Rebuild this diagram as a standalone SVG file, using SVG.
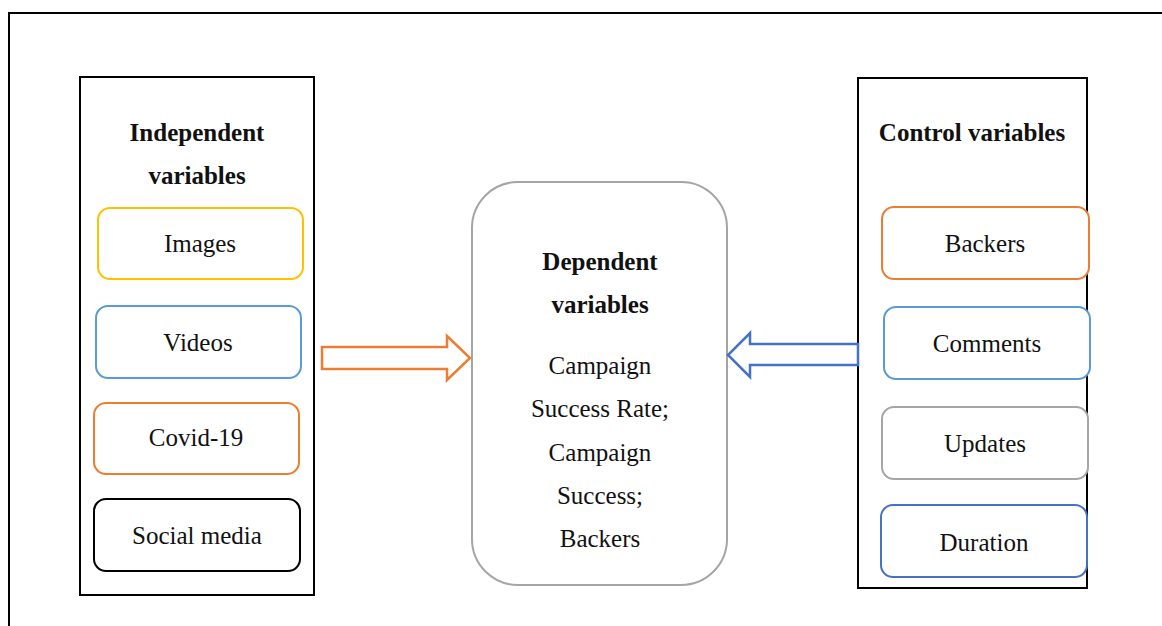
<svg xmlns="http://www.w3.org/2000/svg" width="1162" height="626" viewBox="0 0 1162 626">
<style>
text{font-family:"Liberation Serif","DejaVu Serif",serif;font-size:25px;fill:#111;text-anchor:middle}
.b{font-weight:bold}
.panel{fill:#fff;stroke:#000;stroke-width:2}
.item{fill:#fff;stroke-width:2}
</style>
<rect x="9" y="13" width="1200" height="700" fill="#fff" stroke="#000" stroke-width="2"/>
<g id="independent">
<rect class="panel" x="80" y="77" width="234" height="518"/>
<text class="b" x="197" y="141">Independent</text>
<text class="b" x="197" y="184">variables</text>
</g>
<g id="images"><rect class="item" x="98" y="208" width="205" height="71" rx="12" stroke="#FFC000"/><text x="200" y="252">Images</text></g>
<g id="videos"><rect class="item" x="96" y="306" width="205" height="72" rx="12" stroke="#5B9BD5"/><text x="198" y="351">Videos</text></g>
<g id="covid"><rect class="item" x="94" y="403" width="205" height="71" rx="12" stroke="#ED7D31"/><text x="196" y="446">Covid-19</text></g>
<g id="social"><rect class="item" x="94" y="499" width="206" height="72" rx="12" stroke="#000"/><text x="197" y="544">Social media</text></g>
<g id="dependent">
<rect x="472" y="182" width="255" height="403" rx="46" fill="#fff" stroke="#A5A5A5" stroke-width="2"/>
<text class="b" x="600" y="270">Dependent</text>
<text class="b" x="600" y="313">variables</text>
<text x="600" y="374">Campaign</text>
<text x="600" y="417">Success Rate;</text>
<text x="600" y="461">Campaign</text>
<text x="600" y="504">Success;</text>
<text x="600" y="547">Backers</text>
</g>
<g id="control">
<rect class="panel" x="858" y="78" width="229" height="510"/>
<text class="b" x="972" y="141">Control variables</text>
</g>
<g id="backers"><rect class="item" x="882" y="207" width="207" height="72" rx="12" stroke="#ED7D31"/><text x="985" y="252">Backers</text></g>
<g id="comments"><rect class="item" x="884" y="307" width="206" height="72" rx="12" stroke="#5B9BD5"/><text x="987" y="352">Comments</text></g>
<g id="updates"><rect class="item" x="882" y="407" width="206" height="72" rx="12" stroke="#A5A5A5"/><text x="985" y="452">Updates</text></g>
<g id="duration"><rect class="item" x="881" y="505" width="206" height="72" rx="12" stroke="#4472C4"/><text x="984" y="551">Duration</text></g>
<g id="connectors">
<polygon points="322,347 447,347 447,336 470,358 447,380 447,369 322,369" fill="#fff" stroke="#ED7D31" stroke-width="2.5"/>
<polygon points="858,344 750,344 750,333 728,355 750,377 750,365 858,365" fill="#fff" stroke="#4472C4" stroke-width="2.5"/>
</g>
</svg>
